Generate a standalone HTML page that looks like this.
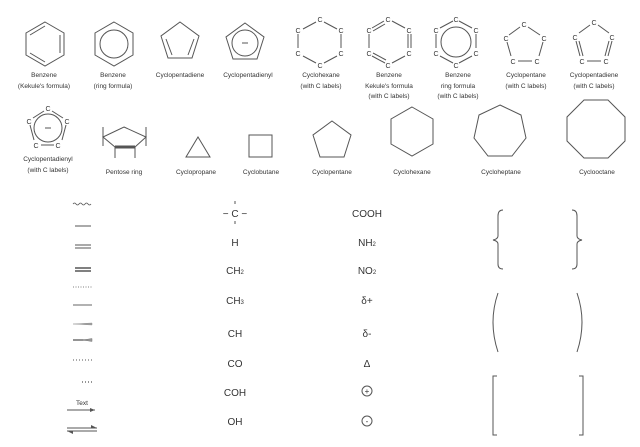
<!DOCTYPE html>
<html><head><meta charset="utf-8"><style>
html,body{margin:0;padding:0;background:#fff}
svg{display:block}
text{font-family:"Liberation Sans",sans-serif;fill:#333}
.s{font-size:6.5px}
.c{font-size:7px;fill:#222}
.m{font-size:10px;fill:#222}
</style></head><body>
<svg width="640" height="447" viewBox="0 0 640 447" xmlns="http://www.w3.org/2000/svg">
<g fill="none" stroke="#555" stroke-width="1">
<polygon points="45,22 64,33 64,55 45,66 26,55 26,33"/>
<line x1="30" y1="35" x2="45" y2="26"/><line x1="60" y1="35" x2="60" y2="53"/><line x1="30" y1="53" x2="45" y2="62"/>
<polygon points="114,22 133,33 133,55 114,66 95,55 95,33"/>
<circle cx="114" cy="44" r="14"/>
<polygon points="180,22 199,36 192,58 168,58 161,36"/>
<line x1="166" y1="39" x2="172" y2="55"/><line x1="194" y1="39" x2="188" y2="55"/>
<polygon points="245,23 264,37 257,59 233,59 226,37"/>
<circle cx="245" cy="43" r="13"/>
<line x1="242" y1="43" x2="248" y2="43"/>
<line x1="316" y1="22" x2="303" y2="29"/><line x1="324" y1="22" x2="337" y2="29"/>
<line x1="298" y1="34" x2="298" y2="48"/><line x1="341" y1="34" x2="341" y2="48"/>
<line x1="303" y1="56" x2="316" y2="63"/><line x1="337" y1="56" x2="324" y2="63"/>
<line x1="384" y1="21" x2="372" y2="28"/><line x1="385" y1="24" x2="373" y2="31"/>
<line x1="392" y1="21" x2="405" y2="28"/>
<line x1="369" y1="34" x2="369" y2="48"/>
<line x1="408" y1="34" x2="408" y2="48"/><line x1="411" y1="34" x2="411" y2="48"/>
<line x1="372" y1="56" x2="385" y2="63"/><line x1="373" y1="53" x2="386" y2="60"/>
<line x1="405" y1="56" x2="392" y2="63"/>
<line x1="453" y1="21" x2="440" y2="28"/><line x1="459" y1="21" x2="472" y2="28"/>
<line x1="436" y1="34" x2="436" y2="48"/><line x1="476" y1="34" x2="476" y2="48"/>
<line x1="440" y1="56" x2="453" y2="63"/><line x1="472" y1="56" x2="459" y2="63"/>
<circle cx="456" cy="42" r="15"/>
<line x1="520" y1="27" x2="509" y2="35"/><line x1="528" y1="27" x2="540" y2="35"/>
<line x1="507" y1="42" x2="511" y2="56"/><line x1="543" y1="42" x2="539" y2="56"/>
<line x1="518" y1="61" x2="532" y2="61"/>
<line x1="590" y1="25" x2="579" y2="33"/><line x1="598" y1="25" x2="609" y2="33"/>
<line x1="576" y1="41" x2="580" y2="56"/><line x1="579" y1="41" x2="583" y2="56"/>
<line x1="612" y1="41" x2="608" y2="56"/><line x1="609" y1="41" x2="605" y2="56"/>
<line x1="587" y1="61" x2="601" y2="61"/>
<line x1="44" y1="111" x2="33" y2="118"/><line x1="52" y1="111" x2="63" y2="118"/>
<line x1="30" y1="125" x2="34" y2="140"/><line x1="66" y1="125" x2="62" y2="140"/>
<line x1="41" y1="145" x2="54" y2="145"/>
<circle cx="48" cy="128" r="14"/>
<line x1="45" y1="128" x2="51" y2="128"/>
<polygon points="124,127 146,137 135,147 115,147 103,137"/>
<line x1="115" y1="147" x2="135" y2="147" stroke-width="3"/>
<line x1="103" y1="127" x2="103" y2="146"/><line x1="146" y1="127" x2="146" y2="146"/>
<line x1="115" y1="147" x2="115" y2="158"/><line x1="135" y1="147" x2="135" y2="158"/>
<polygon points="198,137 210,157 186,157"/>
<rect x="249" y="135" width="23" height="22"/>
<polygon points="332,121 351,135 344,157 320,157 313,135"/>
<polygon points="412,107 433,119 433,144 412,156 391,144 391,119"/>
<polygon points="500,105 521,115 526,138 512,156 488,156 474,138 479,115"/>
<polygon points="584,100 608,100 625,117 625,141 608,158 584,158 567,141 567,117"/>
<path d="M73,204 q1.5,-2 3,0 t3,0 t3,0 t3,0 t3,0 t3,0" stroke-width="0.8"/>
<line x1="75" y1="226" x2="91" y2="226"/>
<line x1="75" y1="245" x2="91" y2="245"/><line x1="75" y1="248" x2="91" y2="248"/>
<line x1="75" y1="268" x2="91" y2="268" stroke-width="1.5"/><line x1="75" y1="271" x2="91" y2="271" stroke-width="1.5"/>
<line x1="73" y1="287" x2="92" y2="287" stroke-dasharray="1,1.5" stroke-width="0.7"/>
<line x1="73" y1="305" x2="92" y2="305" stroke="#999" stroke-width="1.5"/>
<path d="M73,324 L92,323 L92,325 Z" fill="#999" stroke="#999" stroke-width="0.5"/>
<line x1="73" y1="340" x2="92" y2="340" stroke-width="1.2"/><path d="M83,340 L92,338.5 L92,341.5 Z" fill="#999" stroke="#777" stroke-width="0.5"/>
<line x1="73" y1="360" x2="92" y2="360" stroke-dasharray="1,2" stroke-width="1"/>
<line x1="82" y1="382" x2="92" y2="382" stroke-dasharray="1,2" stroke-width="1.2"/>
<line x1="67" y1="410" x2="95" y2="410"/>
<line x1="67" y1="428" x2="97" y2="428"/><line x1="67" y1="431" x2="97" y2="431"/>
<path d="M503,210 Q498,210 498,216 L498,236 Q498,239 493,240 Q498,241 498,244 L498,264 Q498,269 503,269"/>
<path d="M572,210 Q577,210 577,216 L577,236 Q577,239 582,240 Q577,241 577,244 L577,264 Q577,269 572,269"/>
<path d="M498,293 Q488,322 498,352"/>
<path d="M577,293 Q587,322 577,352"/>
<path d="M497,376 L493,376 L493,435 L497,435"/>
<path d="M579,376 L583,376 L583,435 L579,435"/>
<circle cx="367" cy="391" r="5"/><circle cx="367" cy="421" r="5"/>
<line x1="235" y1="201" x2="235" y2="204"/><line x1="235" y1="221" x2="235" y2="224"/>
</g>
<polygon points="95,410 90,408 90,412" fill="#555"/>
<polygon points="97,428 91,425 91,428" fill="#555"/>
<polygon points="67,431 73,431 73,434" fill="#555"/>
<g class="s" text-anchor="middle">
<text x="44" y="77">Benzene</text><text x="44" y="88">(Kekule's formula)</text>
<text x="113" y="77">Benzene</text><text x="113" y="88">(ring formula)</text>
<text x="180" y="77">Cyclopentadiene</text>
<text x="248" y="77">Cyclopentadienyl</text>
<text x="321" y="77">Cyclohexane</text><text x="321" y="88">(with C labels)</text>
<text x="389" y="77">Benzene</text><text x="389" y="88">Kekule's formula</text><text x="389" y="98">(with C labels)</text>
<text x="458" y="77">Benzene</text><text x="458" y="88">ring formula</text><text x="458" y="98">(with C labels)</text>
<text x="526" y="77">Cyclopentane</text><text x="526" y="88">(with C labels)</text>
<text x="594" y="77">Cyclopentadiene</text><text x="594" y="88">(with C labels)</text>
<text x="48" y="161">Cyclopentadienyl</text><text x="48" y="172">(with C labels)</text>
<text x="124" y="174">Pentose ring</text>
<text x="196" y="174">Cyclopropane</text>
<text x="261" y="174">Cyclobutane</text>
<text x="332" y="174">Cyclopentane</text>
<text x="412" y="174">Cyclohexane</text>
<text x="501" y="174">Cycloheptane</text>
<text x="597" y="174">Cyclooctane</text>
<text x="82" y="405">Text</text>
</g>
<g class="c" text-anchor="middle">
<text x="320" y="22">C</text><text x="298" y="33">C</text><text x="341" y="33">C</text><text x="298" y="56">C</text><text x="341" y="56">C</text><text x="320" y="68">C</text>
<text x="388" y="22">C</text><text x="369" y="33">C</text><text x="409" y="33">C</text><text x="369" y="56">C</text><text x="409" y="56">C</text><text x="388" y="68">C</text>
<text x="456" y="22">C</text><text x="436" y="33">C</text><text x="476" y="33">C</text><text x="436" y="56">C</text><text x="476" y="56">C</text><text x="456" y="68">C</text>
<text x="524" y="27">C</text><text x="506" y="41">C</text><text x="544" y="41">C</text><text x="513" y="64">C</text><text x="537" y="64">C</text>
<text x="594" y="25">C</text><text x="575" y="40">C</text><text x="612" y="40">C</text><text x="582" y="64">C</text><text x="606" y="64">C</text>
<text x="48" y="111">C</text><text x="29" y="124">C</text><text x="67" y="124">C</text><text x="36" y="148">C</text><text x="58" y="148">C</text>
</g>
<g class="m" text-anchor="middle">
<text x="235" y="217">− C −</text>
<text x="235" y="246">H</text>
<text x="235" y="274">CH<tspan font-size="6">2</tspan></text>
<text x="235" y="304">CH<tspan font-size="6">3</tspan></text>
<text x="235" y="337">CH</text>
<text x="235" y="367">CO</text>
<text x="235" y="396">COH</text>
<text x="235" y="425">OH</text>
<text x="367" y="217">COOH</text>
<text x="367" y="246">NH<tspan font-size="6">2</tspan></text>
<text x="367" y="274">NO<tspan font-size="6">2</tspan></text>
<text x="367" y="304">δ+</text>
<text x="367" y="337">δ-</text>
<text x="367" y="367">Δ</text>
<text x="367" y="394" font-size="8">+</text>
<text x="367" y="424" font-size="8">-</text>
</g>
</svg>
</body></html>
